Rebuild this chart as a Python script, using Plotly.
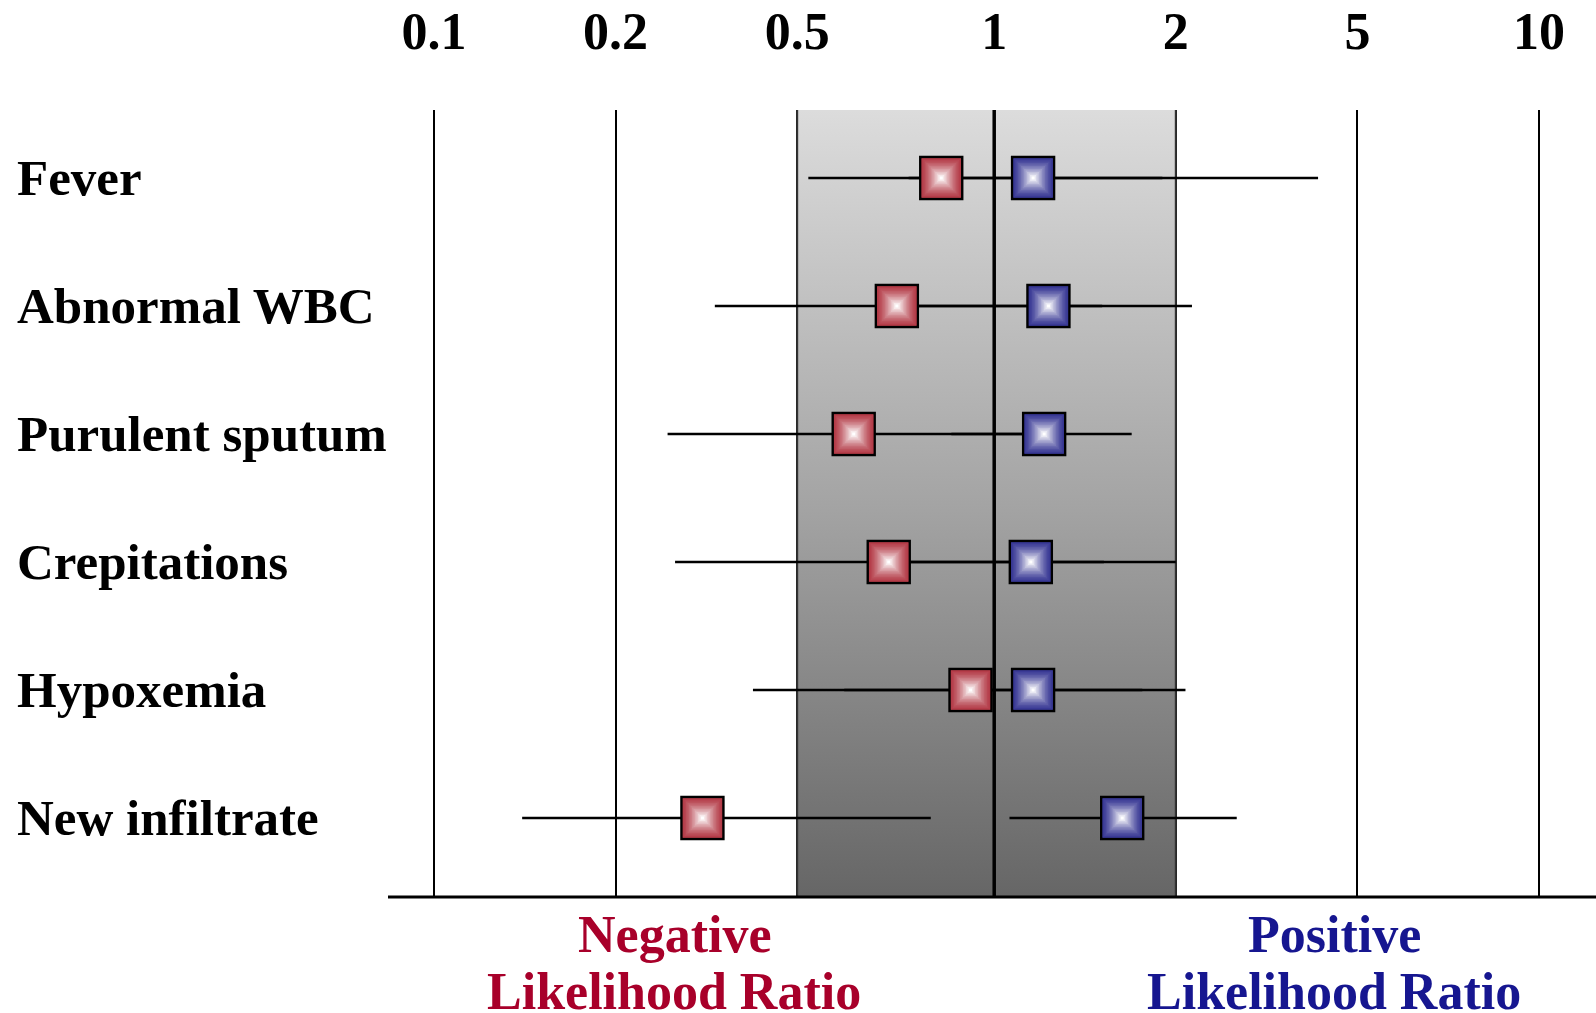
import numpy as np
import plotly.graph_objects as go

# ---------------- data ----------------
CATEGORIES = ["Fever", "Abnormal WBC", "Purulent sputum", "Crepitations", "Hypoxemia", "New infiltrate"]
NEG_LR = [0.83, 0.71, 0.61, 0.69, 0.92, 0.31]
NEG_LO = [0.52, 0.33, 0.26, 0.27, 0.40, 0.14]
NEG_HI = [1.90, 1.51, 1.20, 1.52, 1.76, 0.80]
POS_LR = [1.16, 1.23, 1.21, 1.15, 1.16, 1.63]
POS_LO = [0.74, 0.68, 0.86, 0.64, 0.59, 1.06]
POS_HI = [4.10, 2.17, 1.69, 2.00, 2.10, 2.72]
TICK_VALS = [0.1, 0.2, 0.5, 1, 2, 5, 10]
TICK_TEXT = ["0.1", "0.2", "0.5", "1", "2", "5", "10"]
BAND = [0.5, 2]
REF_LINE = 1

# ---------------- axis scale (the slide's evenly spaced LR scale) ----------------
AXIS_POS = [0, 1, 2, 3.085, 4.085, 5.085, 6.085]


def xpos(v):
    return np.interp(np.log(np.asarray(v, dtype=float)), np.log(TICK_VALS), AXIS_POS)


n = len(CATEGORIES)
ROW_Y = [n - 1 - i for i in range(n)]
YMIN, YMAX = -0.617, 5.531
XMIN, XMAX = -0.2533, 6.399

FONT = "Liberation Serif"
RED_EDGE = (178, 56, 68)
BLUE_EDGE = (52, 52, 146)

fig = go.Figure()

# gradient band between LR 0.5 and 2
bx = xpos(BAND)
fig.add_trace(go.Scatter(
    x=[bx[0], bx[1], bx[1], bx[0], bx[0]],
    y=[YMIN, YMIN, YMAX, YMAX, YMIN],
    mode="lines", fill="toself", line=dict(width=0),
    fillgradient=dict(type="vertical", start=YMIN, stop=YMAX,
                      colorscale=[[0, "#666666"], [0.5, "#A4A4A4"], [1, "#DCDCDC"]]),
    hoverinfo="skip", showlegend=False))

# band edges and reference line
for v, w, c in [(BAND[0], 2, "#333333"), (BAND[1], 2, "#333333"), (REF_LINE, 3.5, "#000000")]:
    xv = float(xpos(v))
    fig.add_trace(go.Scatter(x=[xv, xv], y=[YMIN, YMAX], mode="lines",
                             line=dict(color=c, width=w), hoverinfo="skip", showlegend=False))

# CI lines
def ci_trace(lo, hi):
    xs, ys = [], []
    for a, b, y in zip(lo, hi, ROW_Y):
        xs += [float(xpos(a)), float(xpos(b)), None]
        ys += [y, y, None]
    return go.Scatter(x=xs, y=ys, mode="lines", line=dict(color="black", width=2.5),
                      hoverinfo="skip", showlegend=False)

fig.add_trace(ci_trace(NEG_LO, NEG_HI))
fig.add_trace(ci_trace(POS_LO, POS_HI))

# gradient square markers (stacked squares fading to white)
def square_markers(vals, edge, name):
    N = 14
    xs = xpos(vals)
    for k in range(N):
        t = (k / (N - 1)) ** 1.4
        col = tuple(int(round(e + (255 - e) * t)) for e in edge)
        size = 42 * (1 - k / N)
        fig.add_trace(go.Scatter(
            x=xs, y=ROW_Y, mode="markers", name=name,
            marker=dict(symbol="square", size=size, color="rgb(%d,%d,%d)" % col,
                        line=dict(color="black", width=2.4 if k == 0 else 0)),
            hoverinfo="skip" if k else "x+y", showlegend=False))

square_markers(NEG_LR, RED_EDGE, "Negative LR")
square_markers(POS_LR, BLUE_EDGE, "Positive LR")

# row labels
for cat, y in zip(CATEGORIES, ROW_Y):
    fig.add_annotation(text=cat, x=(15 - 388) / 1208, xref="paper", y=y, yref="y",
                       xanchor="left", yanchor="middle", showarrow=False,
                       font=dict(family=FONT, size=51, color="black", weight="bold"))

# bottom labels
for txt, xc, col in [("Negative", 674, "#A8002A"), ("Positive", 1334, "#161690")]:
    fig.add_annotation(text=txt, x=(xc - 388) / 1208, xref="paper", y=(897 - 935) / 787, yref="paper",
                       xanchor="center", yanchor="middle", showarrow=False,
                       font=dict(family=FONT, size=52, color=col, weight="bold"))
    fig.add_annotation(text="Likelihood Ratio", x=(xc - 388) / 1208, xref="paper", y=(897 - 992) / 787,
                       yref="paper", xanchor="center", yanchor="middle", showarrow=False,
                       font=dict(family=FONT, size=52, color=col, weight="bold"))

# bottom axis line
fig.add_shape(type="line", xref="paper", yref="paper", x0=0, x1=1, y0=0, y1=0,
              line=dict(color="black", width=3))

fig.update_layout(
    width=1596, height=1013,
    margin=dict(l=388, r=0, t=110, b=116),
    paper_bgcolor="white", plot_bgcolor="white",
    xaxis=dict(range=[XMIN, XMAX], side="top", tickmode="array",
               tickvals=list(xpos(TICK_VALS)), ticktext=TICK_TEXT,
               tickfont=dict(family=FONT, size=52, color="black", weight="bold"),
               showgrid=True, gridcolor="black", gridwidth=1.5,
               zeroline=False, showline=False, ticks="", ticklabelstandoff=50,
               fixedrange=True),
    yaxis=dict(range=[YMIN, YMAX], showgrid=False, zeroline=False, showline=False,
               showticklabels=False, fixedrange=True),
    showlegend=False,
)

fig.write_html("out.html", config={"displayModeBar": False},
               post_script="document.body.style.margin='0';document.body.style.overflow='hidden';")
